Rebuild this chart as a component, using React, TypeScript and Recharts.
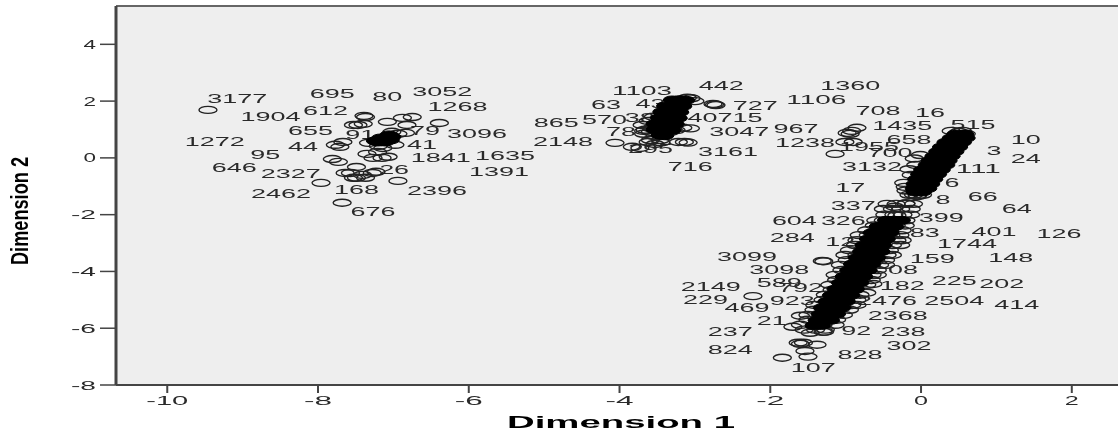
import React from 'react';
import { ScatterChart, Scatter, XAxis, YAxis, CartesianGrid, ReferenceLine } from 'recharts';

const xTicks = [-10, -8, -6, -4, -2, 0, 2];
const yTicks = [-8, -6, -4, -2, 0, 2, 4];
const xDomain = [-10.68, 2.613];
const yDomain = [-8, 5.35];

type P = [number, number];
const toPts = (a: P[]) => a.map(([x, y]) => ({ x, y }));

const leftRings: P[] = [
  [-9.46, 1.69], [-7.39, 1.48], [-7.37, 1.44], [-7.53, 1.16], [-7.40, 1.20], [-7.47, 1.16], [-7.08, 1.27], [-6.88, 1.41],
  [-6.75, 1.44], [-6.82, 1.16], [-6.39, 1.23], [-7.02, 0.92], [-6.94, 0.85], [-6.84, 0.88], [-7.33, 0.53], [-6.98, 0.46],
  [-7.14, 0.35], [-7.20, 0.42], [-7.35, 0.14], [-7.21, 0.21], [-7.27, 0], [-7.15, 0], [-7.07, 0.04], [-7.67, 0.56],
  [-7.77, 0.46], [-7.71, 0.39], [-7.81, -0.04], [-7.73, -0.14], [-7.49, -0.32], [-7.57, -0.53], [-7.49, -0.70], [-7.64, -0.53],
  [-7.37, -0.70], [-7.53, -0.70], [-7.41, -0.60], [-7.28, -0.53], [-7.23, -0.49], [-7.96, -0.88], [-6.94, -0.81], [-7.68, -1.58],
];
const leftCore: P[] = [
  [-7.11, 0.67], [-7.20, 0.56], [-7.11, 0.56], [-7.02, 0.74], [-7.06, 0.81], [-7.17, 0.70], [-7.24, 0.60], [-7.04, 0.63],
];

const midRings: P[] = [
  [-2.76, 1.90], [-2.74, 1.88], [-2.72, 1.86], [-3.16, 1.06], [-3.06, 1.04], [-3.22, 0.56], [-3.14, 0.56], [-3.09, 0.54],
  [-4.06, 0.53], [-3.83, 0.39], [-3.73, 0.35], [-3.59, 0.63], [-3.53, 0.77], [-3.46, 0.63], [-3.66, 0.99], [-3.70, 1.16],
  [-3.59, 0.92], [-3.40, 0.81], [-3.33, 0.92], [-3.62, 0.56], [-3.53, 0.49], [-3.68, 0.95], [-3.58, 1.05], [-3.25, 0.98],
  [-3.68, 0.85], [-3.45, 0.55], [-3.05, 2.1], [-3.0, 2.0], [-3.1, 2.12], [-3.62, 1.3], [-3.55, 1.45],
];
const midCore: P[] = [
  [-3.3, 2.04], [-3.2, 2.05], [-3.12, 2.03], [-3.39, 1.83], [-3.28, 1.84], [-3.16, 1.82], [-3.44, 1.62], [-3.32, 1.63],
  [-3.2, 1.61], [-3.47, 1.41], [-3.36, 1.42], [-3.22, 1.40], [-3.53, 1.2], [-3.4, 1.21], [-3.26, 1.19], [-3.53, 0.99],
  [-3.4, 1.0], [-3.3, 0.98], [-3.46, 0.8], [-3.4, 0.78],
];

const streakUpperRings: P[] = [
  [0.40, 0.95], [0.55, 0.95], [0.50, 0.92], [0.60, 0.85], [-0.01, 0.10], [-0.07, -0.25], [-0.13, -0.60], [-0.23, -0.88],
  [-0.16, -1.30], [-0.10, -1.30], [-0.05, -1.32], [-0.35, -1.72], [-0.20, -1.60], [-0.20, -1.15], [-0.05, -1.35], [0.02, -1.30],
  [-0.09, -0.02], [-0.16, -0.40], [-0.21, -1.02],
];
const streakUpperCore: P[] = [
  [0.46, 0.84], [0.58, 0.84], [0.40, 0.70], [0.52, 0.70], [0.60, 0.70], [0.33, 0.55], [0.45, 0.55], [0.55, 0.55],
  [0.27, 0.38], [0.38, 0.38], [0.50, 0.38], [0.22, 0.22], [0.33, 0.22], [0.45, 0.22], [0.17, 0.06], [0.28, 0.06],
  [0.40, 0.06], [0.12, -0.10], [0.24, -0.10], [0.36, -0.10], [0.08, -0.25], [0.20, -0.25], [0.33, -0.25], [0.02, -0.42],
  [0.14, -0.42], [0.27, -0.42], [-0.02, -0.58], [0.10, -0.58], [0.22, -0.58], [-0.06, -0.75], [0.06, -0.75], [0.17, -0.75],
  [-0.08, -0.92], [0.03, -0.92], [0.13, -0.92], [-0.09, -1.08], [0.0, -1.08], [0.09, -1.08], [-0.08, -1.2], [0.02, -1.2],
];

const streakLowerRings: P[] = [
  [-0.45, -1.62], [-0.33, -1.62], [-0.2, -1.62], [-0.1, -1.62], [-0.5, -1.8], [-0.38, -1.8], [-0.27, -1.8], [-0.13, -1.8],
  [-0.48, -2.0], [-0.36, -2.0], [-0.24, -2.0], [-0.14, -2.0], [-0.32, -2.02], [-0.6, -2.2], [-0.5, -2.2], [-0.35, -2.2],
  [-0.2, -2.2], [-0.62, -2.38], [-0.48, -2.38], [-0.33, -2.38], [-0.21, -2.38], [-0.72, -2.55], [-0.58, -2.55], [-0.42, -2.55],
  [-0.25, -2.55], [-0.7, -2.72], [-0.55, -2.72], [-0.4, -2.72], [-0.28, -2.72], [-0.82, -2.72], [-0.85, -2.9], [-0.65, -2.9],
  [-0.5, -2.9], [-0.32, -2.9], [-0.25, -2.9], [-0.87, -3.07], [-0.72, -3.07], [-0.55, -3.07], [-0.38, -3.07], [-0.27, -3.07],
  [-0.95, -3.25], [-0.76, -3.25], [-0.6, -3.25], [-0.42, -3.25], [-1.01, -3.42], [-0.85, -3.42], [-0.65, -3.42], [-0.45, -3.42],
  [-0.38, -3.42], [-0.98, -3.6], [-0.8, -3.6], [-0.6, -3.6], [-0.47, -3.6], [-1.07, -3.77], [-0.9, -3.77], [-0.7, -3.77],
  [-0.55, -3.77], [-0.47, -3.77], [-1.05, -3.95], [-0.9, -3.95], [-0.72, -3.95], [-0.58, -3.95], [-1.14, -4.12], [-0.95, -4.12],
  [-0.8, -4.12], [-0.65, -4.12], [-0.58, -4.12], [-1.12, -4.3], [-0.98, -4.3], [-0.82, -4.3], [-0.66, -4.3], [-1.21, -4.47],
  [-1.05, -4.47], [-0.88, -4.47], [-0.72, -4.47], [-0.64, -4.44], [-1.18, -4.65], [-1.02, -4.65], [-0.88, -4.65], [-0.72, -4.75],
  [-1.27, -4.82], [-1.1, -4.82], [-0.95, -4.82], [-0.81, -4.82], [-1.3, -5.0], [-1.12, -5.0], [-1.0, -5.0], [-0.85, -5.0],
  [-1.41, -5.18], [-1.22, -5.18], [-1.05, -5.18], [-0.92, -5.18], [-0.85, -5.18], [-1.42, -5.35], [-1.25, -5.35], [-1.12, -5.35],
  [-0.95, -5.35], [-1.5, -5.53], [-1.32, -5.53], [-1.18, -5.53], [-1.03, -5.53], [-1.5, -5.7], [-1.35, -5.7], [-1.22, -5.7],
  [-1.12, -5.7], [-1.6, -5.88], [-1.4, -5.88], [-1.3, -5.88], [-1.14, -5.88], [-1.55, -6.05], [-1.4, -6.05], [-1.27, -6.05],
];
const streakLowerOutliers: P[] = [
  [-1.31, -3.63], [-1.29, -3.64], [-2.23, -4.87], [-1.60, -5.56], [-1.70, -5.95], [-1.30, -6.13], [-1.28, -6.12], [-1.47, -6.16],
  [-1.63, -6.51], [-1.56, -6.51], [-1.60, -6.55], [-1.38, -6.58], [-1.54, -6.80], [-1.50, -7.0], [-1.84, -7.04],
];
const streakLowerCore: P[] = [
  [-0.46, -2.2], [-0.36, -2.2], [-0.26, -2.2], [-0.57, -2.42], [-0.45, -2.42], [-0.35, -2.42], [-0.65, -2.64], [-0.53, -2.64],
  [-0.41, -2.64], [-0.7, -2.86], [-0.58, -2.86], [-0.46, -2.86], [-0.76, -3.08], [-0.63, -3.08], [-0.51, -3.08], [-0.79, -3.3],
  [-0.66, -3.3], [-0.53, -3.3], [-0.85, -3.52], [-0.72, -3.52], [-0.59, -3.52], [-0.91, -3.74], [-0.78, -3.74], [-0.65, -3.74],
  [-0.96, -3.96], [-0.83, -3.96], [-0.7, -3.96], [-1.02, -4.18], [-0.89, -4.18], [-0.76, -4.18], [-1.07, -4.4], [-0.94, -4.4],
  [-0.81, -4.4], [-1.13, -4.62], [-1.0, -4.62], [-0.87, -4.62], [-1.19, -4.84], [-1.06, -4.84], [-0.93, -4.84], [-1.25, -5.06],
  [-1.12, -5.06], [-0.99, -5.06], [-1.31, -5.28], [-1.18, -5.28], [-1.05, -5.28], [-1.34, -5.5], [-1.23, -5.5], [-1.12, -5.5],
  [-1.38, -5.72], [-1.3, -5.72], [-1.2, -5.72], [-1.42, -5.9], [-1.32, -5.9],
];

const labelNames = [
  '3177', '695', '80', '3052', '1268', '612', '1904', '655', '91', '79', '3096', '1272', '41', '44', '95', '1841', '1635', '1391', '646', '2327', '26', '168', '2462', '2396', '676',
  '1103', '442', '63', '43', '727', '1106', '1360', '708', '16', '865', '570', '38', '40715', '78', '3047', '967', '1435', '515', '658', '10', '2148', '1238', '1955', '295', '3161', '700', '3', '24', '716', '3132', '111', '6', '17', '8', '66', '64',
  '337', '399', '604', '326', '83', '401', '126', '284', '12', '1744', '3099', '159', '148', '3098', '08', '589', '792', '2149', '182', '225', '202', '229', '469', '923', '2476', '2504', '414', '2368', '21', '92', '237', '238', '302', '824', '828', '107',
];
const labelX = [
  -9.07, -7.81, -7.08, -6.35, -6.15, -7.90, -8.63, -8.10, -7.44, -6.58, -5.89, -9.37, -6.62, -8.20, -8.70, -6.37, -5.52, -5.60, -9.11, -8.36, -6.99, -7.49, -8.49, -6.42, -7.27,
  -3.70, -2.65, -4.18, -3.59, -2.20, -1.39, -0.94, -0.57, 0.12, -4.84, -4.20, -3.73, -2.60, -3.98, -2.41, -1.66, -0.25, 0.69, -0.16, 1.39, -4.75, -1.54, -0.69, -3.59, -2.56, -0.41, 0.97, 1.39, -3.06, -0.65, 0.76, 0.41, -0.94, 0.29, 0.82, 1.27,
  -0.90, 0.27, -1.68, -1.03, 0.05, 0.97, 1.83, -1.71, -1.07, 0.61, -2.31, 0.15, 1.19, -1.88, -0.24, -1.88, -1.60, -2.79, -0.25, 0.44, 1.07, -2.86, -2.31, -1.71, -0.45, 0.44, 1.27, -0.31, -1.98, -0.86, -2.53, -0.24, -0.16, -2.53, -0.81, -1.43,
];
const labelY = [
  2.08, 2.25, 2.15, 2.32, 1.80, 1.65, 1.44, 0.95, 0.81, 0.95, 0.85, 0.56, 0.46, 0.39, 0.11, 0, 0.07, -0.49, -0.35, -0.56, -0.42, -1.13, -1.27, -1.16, -1.90,
  2.36, 2.54, 1.87, 1.90, 1.83, 2.04, 2.54, 1.65, 1.58, 1.23, 1.34, 1.41, 1.41, 0.92, 0.92, 1.02, 1.13, 1.16, 0.63, 0.63, 0.56, 0.53, 0.39, 0.32, 0.21, 0.18, 0.25, -0.04, -0.32, -0.32, -0.39, -0.88, -1.06, -1.48, -1.37, -1.80,
  -1.69, -2.11, -2.22, -2.22, -2.64, -2.61, -2.68, -2.82, -2.96, -3.03, -3.49, -3.56, -3.52, -3.94, -3.94, -4.40, -4.58, -4.54, -4.51, -4.33, -4.44, -5.0, -5.28, -5.04, -5.04, -5.04, -5.18, -5.56, -5.74, -6.09, -6.13, -6.13, -6.62, -6.76, -6.94, -7.39,
];
const labelled = labelNames.map((label, i) => ({ x: labelX[i], y: labelY[i], label }));

const rings = [...leftRings, ...midRings, ...streakUpperRings, ...streakLowerRings, ...streakLowerOutliers];
const cores = [...leftCore, ...midCore, ...streakUpperCore, ...streakLowerCore];
const spotX: P[] = [[-0.85, 1.06], [-0.92, 0.95], [-0.98, 0.88], [-0.94, 0.85], [-1.01, 0.56], [-0.90, 0.56], [-1.14, 0.14]];

const FONT = '"Liberation Sans", Arial, sans-serif';
const Ring = (p: any) => (
  <ellipse cx={p.cx} cy={p.cy} rx={9} ry={3.5} fill="none" stroke="#222" strokeWidth={1.4} />
);
const Core = (p: any) => (
  <ellipse cx={p.cx} cy={p.cy} rx={9} ry={4} fill="#000" stroke="#000" strokeWidth={1} />
);
const NUM = { fontFamily: FONT, fill: '#2a2a2a' };
const LabelMark = (p: any) => {
  const t = String(p.payload.label);
  return (
    <text x={p.cx} y={p.cy} textAnchor="middle" dominantBaseline="central" fontSize={12}
      textLength={t.length * 15} lengthAdjust="spacingAndGlyphs" {...NUM}>{t}</text>
  );
};
const XTick = (p: any) => {
  const t = String(p.payload.value);
  return (
    <text x={p.x} y={p.y + 5} textAnchor="middle" dominantBaseline="central" fontSize={13}
      textLength={t.length * 14} lengthAdjust="spacingAndGlyphs" {...NUM}>{t}</text>
  );
};
const YTick = (p: any) => {
  const t = String(p.payload.value);
  return (
    <text x={p.x - 2} y={p.y} textAnchor="end" dominantBaseline="central" fontSize={13}
      textLength={t.length * 12.5} lengthAdjust="spacingAndGlyphs" {...NUM}>{t}</text>
  );
};
const XTitle = () => (
  <text x={621} y={428} textAnchor="middle" fontSize={17} fontWeight="bold" fontFamily={FONT}
    fill="#000" textLength={228} lengthAdjust="spacingAndGlyphs">Dimension 1</text>
);
const YTitle = () => (
  <text transform="translate(28,211) rotate(-90)" textAnchor="middle" fontSize={23} fontWeight="bold"
    fontFamily={FONT} fill="#000" textLength={108} lengthAdjust="spacingAndGlyphs">Dimension 2</text>
);

export default function App() {
  return (
    <div style={{ position: 'absolute', left: 0, top: 0, width: 1118, height: 436, background: '#fff', filter: 'blur(0.5px)' }}>
      <ScatterChart width={1118} height={436} margin={{ top: 6, right: 0, left: 0, bottom: 0 }}>
        <CartesianGrid fill="#eeeeee" horizontal={false} vertical={false} />
        <XAxis type="number" dataKey="x" domain={xDomain} ticks={xTicks} allowDataOverflow height={51}
          axisLine={{ stroke: '#444', strokeWidth: 2 }} tickLine={{ stroke: '#444', strokeWidth: 2 }} tickSize={8}
          tick={<XTick />} interval={0} label={{ content: XTitle }} />
        <YAxis type="number" dataKey="y" domain={yDomain} ticks={yTicks} allowDataOverflow width={116}
          axisLine={{ stroke: '#444', strokeWidth: 3 }} tickLine={{ stroke: '#444', strokeWidth: 1.5 }} tickSize={16}
          tick={<YTick />} interval={0} label={{ content: YTitle }} />
        <ReferenceLine y={yDomain[1]} stroke="#666" strokeWidth={2} />
        <Scatter name="labels" data={labelled} shape={LabelMark} isAnimationActive={false} />
        <Scatter name="rings" data={toPts(rings)} shape={Ring} isAnimationActive={false} />
        <Scatter name="spots" data={toPts(spotX)} shape={Ring} isAnimationActive={false} />
        <Scatter name="cores" data={toPts(cores)} shape={Core} isAnimationActive={false} />
      </ScatterChart>
    </div>
  );
}
